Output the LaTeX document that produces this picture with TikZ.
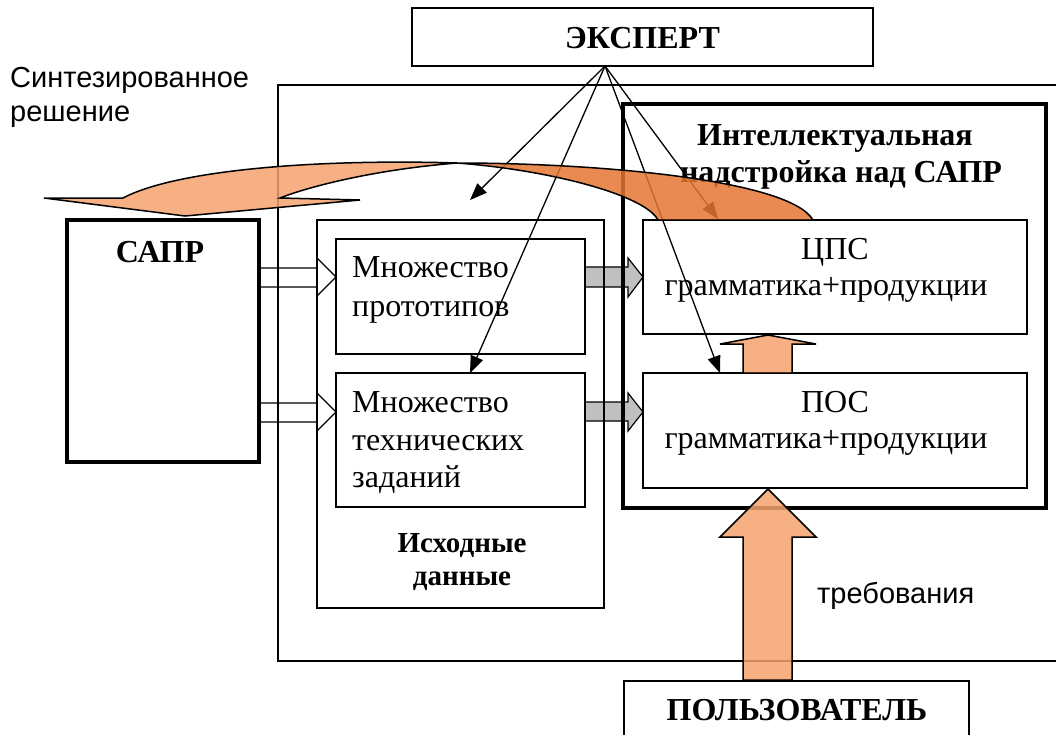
\documentclass[tikz,border=0pt]{standalone}
\usepackage{fontspec}
\setmainfont{Liberation Serif}
\newfontfamily\arialf{Liberation Sans}
\usetikzlibrary{arrows.meta}
\definecolor{orlight}{RGB}{244,162,110}
\definecolor{ordark}{RGB}{228,118,50}
\definecolor{grayarr}{RGB}{192,192,192}
\begin{document}
\begin{tikzpicture}[x=1pt,y=-1pt,
  box/.style={draw, line width=1.5pt, inner sep=0pt, outer sep=0pt},
  thickbox/.style={draw, line width=4.5pt, inner sep=0pt, outer sep=0pt},
  txt/.style={inner sep=0pt, anchor=base, font=\fontsize{32}{38}\selectfont},
  btxt/.style={inner sep=0pt, anchor=base, font=\fontsize{32}{37}\selectfont\bfseries},
  stxt/.style={inner sep=0pt, anchor=base, font=\fontsize{29}{33}\selectfont\bfseries},
  atxt/.style={inner sep=0pt, anchor=base west, font=\fontsize{29}{36}\selectfont\arialf},
  thin/.style={line width=1.3pt, -{Triangle[length=17pt,width=13pt]}},
  whitearr/.style={draw, line width=1.2pt, fill=white},
  grayblk/.style={draw, line width=1.2pt, fill=grayarr},
  orarr/.style={draw, line width=1.5pt, fill=orlight, fill opacity=0.85},
  ordk/.style={draw, line width=1.5pt, fill=ordark, fill opacity=0.85}
]
\useasboundingbox (0,0) rectangle (1056,734);

% block arrows (under the frames)
\path[whitearr] (259,268) -- (317,268) -- (317,258) -- (336,277) -- (317,296) -- (317,287) -- (259,287) -- cycle;
\path[whitearr] (259,403) -- (317,403) -- (317,393) -- (336,412) -- (317,431) -- (317,422) -- (259,422) -- cycle;
\path[grayblk] (585,267) -- (628,267) -- (628,258) -- (643,277) -- (628,297) -- (628,287) -- (585,287) -- cycle;
\path[grayblk] (585,402) -- (628,402) -- (628,393) -- (643,412) -- (628,431) -- (628,421) -- (585,421) -- cycle;

% frames
\node[box] (outer) at (674,373) [minimum width=792pt, minimum height=576pt] {};
\node[box] (expert) at (642.5,37) [minimum width=461pt, minimum height=58pt] {};
\node[thickbox] (sapr) at (163,341) [minimum width=192pt, minimum height=242pt] {};
\node[box] (ishod) at (460.5,414) [minimum width=287pt, minimum height=388pt] {};
\node[box] (proto) at (460.5,296.5) [minimum width=249pt, minimum height=115pt] {};
\node[box] (tz) at (460.5,440) [minimum width=249pt, minimum height=134pt] {};
\node[thickbox] (intel) at (834.5,306) [minimum width=423pt, minimum height=404pt] {};
\node[box] (cps) at (835,277) [minimum width=384pt, minimum height=114pt] {};
\node[box] (pos) at (835,430.5) [minimum width=384pt, minimum height=115pt] {};
\node[box] (user) at (796.5,725.5) [minimum width=345pt, minimum height=89pt] {};

% texts
\node[btxt] (t-expert) at (642.5,48) {ЭКСПЕРТ};
\node[btxt] (t-sapr) at (160,262) {САПР};
\node[atxt] (t-synt1) at (10,87) {Синтезированное};
\node[atxt] (t-synt2) at (10,121) {решение};
\node[txt, anchor=base west] (t-proto1) at (352,277) {Множество};
\node[txt, anchor=base west] (t-proto2) at (352,316) {прототипов};
\node[txt, anchor=base west] (t-tz1) at (352,412) {Множество};
\node[txt, anchor=base west] (t-tz2) at (352,450) {технических};
\node[txt, anchor=base west] (t-tz3) at (352,487) {заданий};
\node[stxt] (t-ishod1) at (462,552) {Исходные};
\node[stxt] (t-ishod2) at (462,585) {данные};
\node[btxt] (t-intel1) at (835,145) {Интеллектуальная};
\node[btxt] (t-intel2) at (841,182) {надстройка над САПР};
\node[txt] (t-cps1) at (835,259) {ЦПС};
\node[txt] (t-cps2) at (826,295) {грамматика+продукции};
\node[txt] (t-pos1) at (835,412) {ПОС};
\node[txt] (t-pos2) at (826,448) {грамматика+продукции};
\node[atxt] (t-req) at (817,603) {требования};
\node[btxt] (t-user) at (797,720) {ПОЛЬЗОВАТЕЛЬ};

% expert arrows
\coordinate (exo) at (605,66);
\coordinate (ta1) at (470,200);
\coordinate (ta2) at (470,373);
\coordinate (ta3) at (720,373);
\coordinate (ta4) at (718,219);
\draw[thin] (exo) -- (ta1);
\draw[thin] (exo) -- (ta2);
\draw[thin] (exo) -- (ta3);
\draw[thin] (exo) -- (ta4);

% orange curved arrow: back (dark) part
\path[ordk] (457,163) .. controls (600,163) and (790,180) .. (813,220)
  -- (658,220) .. controls (645,195) and (550,170) .. (457,163) -- cycle;
% front (light) part with head
\path[orarr] (457,163) .. controls (330,159) and (180,168) .. (123,198)
  -- (44,198) -- (185,216) -- (360,200) -- (280,198)
  .. controls (305,188) and (370,170) .. (457,163) -- cycle;

% orange vertical arrows
\path[orarr] (743,680) -- (743,537) -- (720,537) -- (768,489) -- (816,537) -- (792,537) -- (792,680) -- cycle;
\path[orarr] (743,373) -- (743,344) -- (720,344) -- (768,335) -- (816,344) -- (792,344) -- (792,373) -- cycle;
\end{tikzpicture}
\end{document}
